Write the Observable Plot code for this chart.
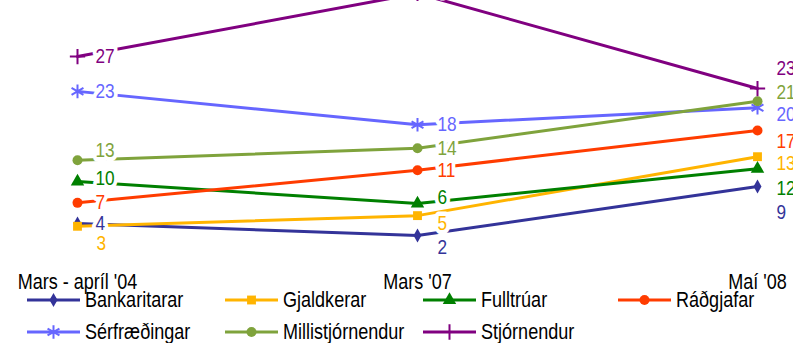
<!DOCTYPE html>
<html><head><meta charset="utf-8">
<script src="https://cdn.jsdelivr.net/npm/d3@7"></script>
<script src="https://cdn.jsdelivr.net/npm/@observablehq/plot@0.6"></script>
<style>
body{margin:0;background:#fff;}
#wrap{position:relative;width:793px;height:343px;overflow:hidden;font-family:"Liberation Sans Narrow","Arial Narrow","Liberation Sans",sans-serif;}
#wrap svg{overflow:hidden;}
.leg{position:absolute;display:flex;align-items:center;height:26px;font-size:22px;color:#000;white-space:nowrap;}
.leg svg{margin-right:5px;flex:none;}
.leg span{display:inline-block;transform:scaleX(0.82);transform-origin:left center;}
</style></head><body><div id="wrap"></div>
<script>
const periods = ["Mars - apríl '04", "Mars '07", "Maí '08"];
const seriesNames = ["Bankaritarar","Gjaldkerar","Fulltrúar","Ráðgjafar","Sérfræðingar","Millistjórnendur","Stjórnendur"];
const seriesColors = ["#333399","#FFB400","#008000","#FF3C00","#6666FF","#7FA33C","#800080"];
const seriesSymbols = ["diamond","square","triangle","circle","asterisk","circle","plus"];

// values
const bankaritarar     = [3.6, 1.9, 8.8];
const gjaldkerar       = [3.2, 4.7, 13.0];
const fulltruar        = [9.5, 6.4, 11.3];
const radgjafar        = [6.5, 11.1, 16.7];
const serfraedingar    = [22.2, 17.5, 19.9];
const millistjornendur = [12.5, 14.2, 20.8];
const stjornendur      = [27.1, 36.0, 22.6];

// printed value labels
const bankaritararLabels     = ["4","2","9"];
const gjaldkerarLabels       = ["3","5","13"];
const fulltruarLabels        = ["10","6","12"];
const radgjafarLabels        = ["7","11","17"];
const serfraedingarLabels    = ["23","18","20"];
const millistjornendurLabels = ["13","14","21"];
const stjornendurLabels      = ["27","36","23"];

const allValues = [bankaritarar,gjaldkerar,fulltruar,radgjafar,serfraedingar,millistjornendur,stjornendur];
const allLabels = [bankaritararLabels,gjaldkerarLabels,fulltruarLabels,radgjafarLabels,serfraedingarLabels,millistjornendurLabels,stjornendurLabels];

// label placement (pixel offsets from each point)
const labelOffsets = [
  [[18,0],[20,12],[19,26]],
  [[19,17],[20,8],[19,7]],
  [[18,-3],[20,-6],[19,19]],
  [[18,-1],[20,0],[19,11]],
  [[18,0],[20,0],[19,7]],
  [[18,-10],[20,0],[19,-9]],
  [[18,0],[20,-4],[19,-20]]
];
const symbolSize = {diamond:4.2, square:5, triangle:5, circle:5, asterisk:6.5, plus:5};
const filled = s => !(s === "asterisk" || s === "plus");

const rows = [];
seriesNames.forEach((name, i) => {
  periods.forEach((p, j) => rows.push({series: name, period: p, value: allValues[i][j], label: allLabels[i][j], si: i, pj: j}));
});

const marks = [];
seriesNames.forEach((name, i) => {
  const d = rows.filter(r => r.series === name);
  const sym = seriesSymbols[i];
  marks.push(Plot.line(d, {x: "period", y: "value", stroke: seriesColors[i], strokeWidth: 3}));
  marks.push(Plot.dot(d, {x: "period", y: "value", symbol: () => sym, r: symbolSize[sym],
    fill: filled(sym) ? seriesColors[i] : "none", stroke: seriesColors[i], strokeWidth: filled(sym) ? 0 : 2}));
});
rows.forEach(r => {
  const [dx, dy] = labelOffsets[r.si][r.pj];
  marks.push(Plot.text([r], {x: "period", y: "value", text: "label", dx, dy, textAnchor: "start", lineAnchor: "middle",
    fill: seriesColors[r.si], stroke: "white", strokeWidth: 9, fontSize: 21}));
});
marks.push(Plot.axisX({tickSize: 0, tickPadding: 24, fontSize: 22, color: "#000"}));

const chart = Plot.plot({
  width: 793, height: 343,
  marginLeft: 76, marginRight: 35.3, marginTop: 0, marginBottom: 94.5,
  style: {fontFamily: "'Liberation Sans Narrow','Arial Narrow','Liberation Sans',sans-serif", background: "white", overflow: "hidden"},
  x: {type: "point", domain: periods, padding: 0, label: null},
  y: {domain: [0, 35], axis: null},
  marks
});
// narrow the glyphs (the reference uses a condensed sans)
chart.querySelectorAll("text").forEach(t => {
  const tr = t.getAttribute("transform");
  if (tr) t.setAttribute("transform", tr + " scale(0.82,1)");
  else {
    const x = +(t.getAttribute("x") || 0);
    t.setAttribute("transform", `translate(${x},0) scale(0.82,1) translate(${-x},0)`);
  }
});
const wrap = document.getElementById("wrap");
wrap.appendChild(chart);

// legend
const legendPos = [[27,287],[225,287],[423,287],[618,287],[27,319],[225,319],[423,319]];
const symMap = {diamond: d3.symbolDiamond, square: d3.symbolSquare, triangle: d3.symbolTriangle, circle: d3.symbolCircle, asterisk: d3.symbolAsterisk, plus: d3.symbolPlus};
seriesNames.forEach((name, i) => {
  const div = document.createElement("div");
  div.className = "leg";
  div.style.left = legendPos[i][0] + "px";
  div.style.top = legendPos[i][1] + "px";
  const sym = seriesSymbols[i];
  const r = symbolSize[sym];
  const path = d3.symbol(symMap[sym], Math.PI * r * r)();
  div.innerHTML = `<svg width="53" height="26" viewBox="0 0 53 26"><line x1="0" x2="53" y1="13" y2="13" stroke="${seriesColors[i]}" stroke-width="3"/>` +
    `<path transform="translate(26.5,13)" d="${path}" fill="${filled(sym) ? seriesColors[i] : "none"}" stroke="${seriesColors[i]}" stroke-width="${filled(sym) ? 0 : 2}"/></svg><span>${name}</span>`;
  wrap.appendChild(div);
});
</script></body></html>
